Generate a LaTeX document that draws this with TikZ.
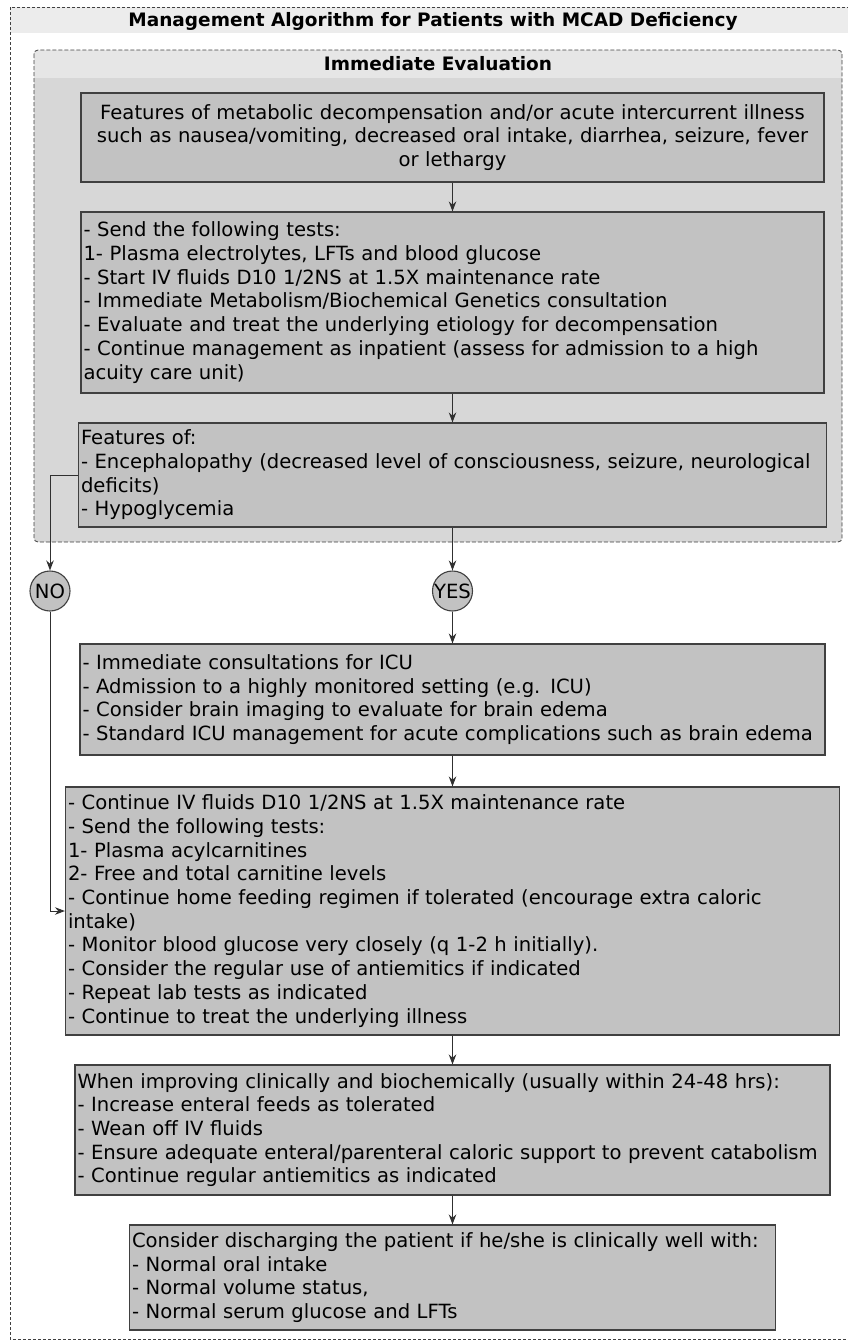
\documentclass[tikz,border=0pt]{standalone}
\usepackage{fontspec}
\setmainfont{DejaVu Sans}
\usetikzlibrary{arrows.meta}
\definecolor{boxfill}{HTML}{C2C2C2}
\definecolor{boxline}{HTML}{404040}
\definecolor{innerfill}{HTML}{D7D7D7}
\definecolor{bandfill}{HTML}{E6E6E6}
\definecolor{titlefill}{HTML}{ECECEC}
\definecolor{conn}{HTML}{303030}
\newcommand\boxfont{\fontsize{19.6}{23.7}\selectfont}
\newcommand\headfont{\fontsize{18.5}{22}\selectfont\bfseries}
\begin{document}
\begin{tikzpicture}[x=1pt,y=-1pt,
  flowbox/.style={draw=boxline, fill=boxfill, line width=1.1pt, inner xsep=2.5pt, inner ysep=0pt, align=left, font=\boxfont},
  circ/.style={circle, draw=boxline, fill=boxfill, line width=1.1pt, minimum size=40pt, inner sep=0pt, font=\boxfont},
  arr/.style={draw=conn, line width=1pt, -{Stealth[length=10pt,width=7.5pt]}},
  head/.style={font=\headfont, inner sep=0pt}]
\useasboundingbox (0,0) rectangle (847,1341);
% outer frame
\fill[titlefill] (10,7) rectangle (858,33);
\draw[boxline, line width=0.8pt, dash pattern=on 3pt off 2pt] (10,7) rectangle (858,1339);
\node[head] (title) at (433,21) {Management Algorithm for Patients with MCAD Deficiency};
% inner frame
\fill[innerfill, rounded corners=4pt] (34,50) rectangle (842,542);
\begin{scope}
  \clip[rounded corners=4pt] (34,50) rectangle (842,542);
  \fill[bandfill] (34,50) rectangle (842,78);
\end{scope}
\draw[boxline, line width=0.8pt, dash pattern=on 4pt off 2pt, rounded corners=4pt] (34,50) rectangle (842,542);
\node[head] (eval) at (438,64) {Immediate Evaluation};
% boxes
\node[flowbox, align=center, text width=738pt, minimum height=89pt] (b1) at (452.5,137.5)
  {Features of metabolic decompensation and/or acute intercurrent illness\\such as nausea/vomiting, decreased oral intake, diarrhea, seizure, fever\\or lethargy};
\node[flowbox, text width=738pt, minimum height=181pt] (b2) at (452.5,302.5)
  {- Send the following tests:\\1- Plasma electrolytes, LFTs and blood glucose\\- Start IV fluids D10 1/2NS at 1.5X maintenance rate\\- Immediate Metabolism/Biochemical Genetics consultation\\- Evaluate and treat the underlying etiology for decompensation\\- Continue management as inpatient (assess for admission to a high\\acuity care unit)};
\node[flowbox, text width=743pt, minimum height=104pt] (b3) at (452.5,475)
  {Features of:\\- Encephalopathy (decreased level of consciousness, seizure, neurological\\deficits)\\- Hypoglycemia};
\node[circ] (no) at (50,591) {NO};
\node[circ] (yes) at (452.5,591) {YES};
\node[flowbox, text width=740pt, minimum height=111pt] (b4) at (452.5,699.5)
  {- Immediate consultations for ICU\\- Admission to a highly monitored setting (e.g. ICU)\\- Consider brain imaging to evaluate for brain edema\\- Standard ICU management for acute complications such as brain edema};
\node[flowbox, text width=769pt, minimum height=248pt] (b5) at (452.5,911)
  {- Continue IV fluids D10 1/2NS at 1.5X maintenance rate\\- Send the following tests:\\1- Plasma acylcarnitines\\2- Free and total carnitine levels\\- Continue home feeding regimen if tolerated (encourage extra caloric\\intake)\\- Monitor blood glucose very closely (q 1-2 h initially).\\- Consider the regular use of antiemitics if indicated\\- Repeat lab tests as indicated\\- Continue to treat the underlying illness};
\node[flowbox, text width=750pt, minimum height=130pt] (b6) at (452.5,1130)
  {When improving clinically and biochemically (usually within 24-48 hrs):\\- Increase enteral feeds as tolerated\\- Wean off IV fluids\\- Ensure adequate enteral/parenteral caloric support to prevent catabolism\\- Continue regular antiemitics as indicated};
\node[flowbox, text width=641pt, minimum height=105pt] (b7) at (452.5,1277.5)
  {Consider discharging the patient if he/she is clinically well with:\\- Normal oral intake\\- Normal volume status,\\- Normal serum glucose and LFTs};
% connectors
\draw[arr] (b1.south) -- (b2.north);
\draw[arr] (b2.south) -- (b3.north);
\draw[arr] (b3.south) -- (yes.north);
\draw[arr] (b3.west) -| (no.north);
\draw[arr] (yes.south) -- (b4.north);
\draw[arr] (no.south) |- (b5.west);
\draw[arr] (b4.south) -- (b5.north);
\draw[arr] (b5.south) -- (b6.north);
\draw[arr] (b6.south) -- (b7.north);
\end{tikzpicture}
\end{document}
